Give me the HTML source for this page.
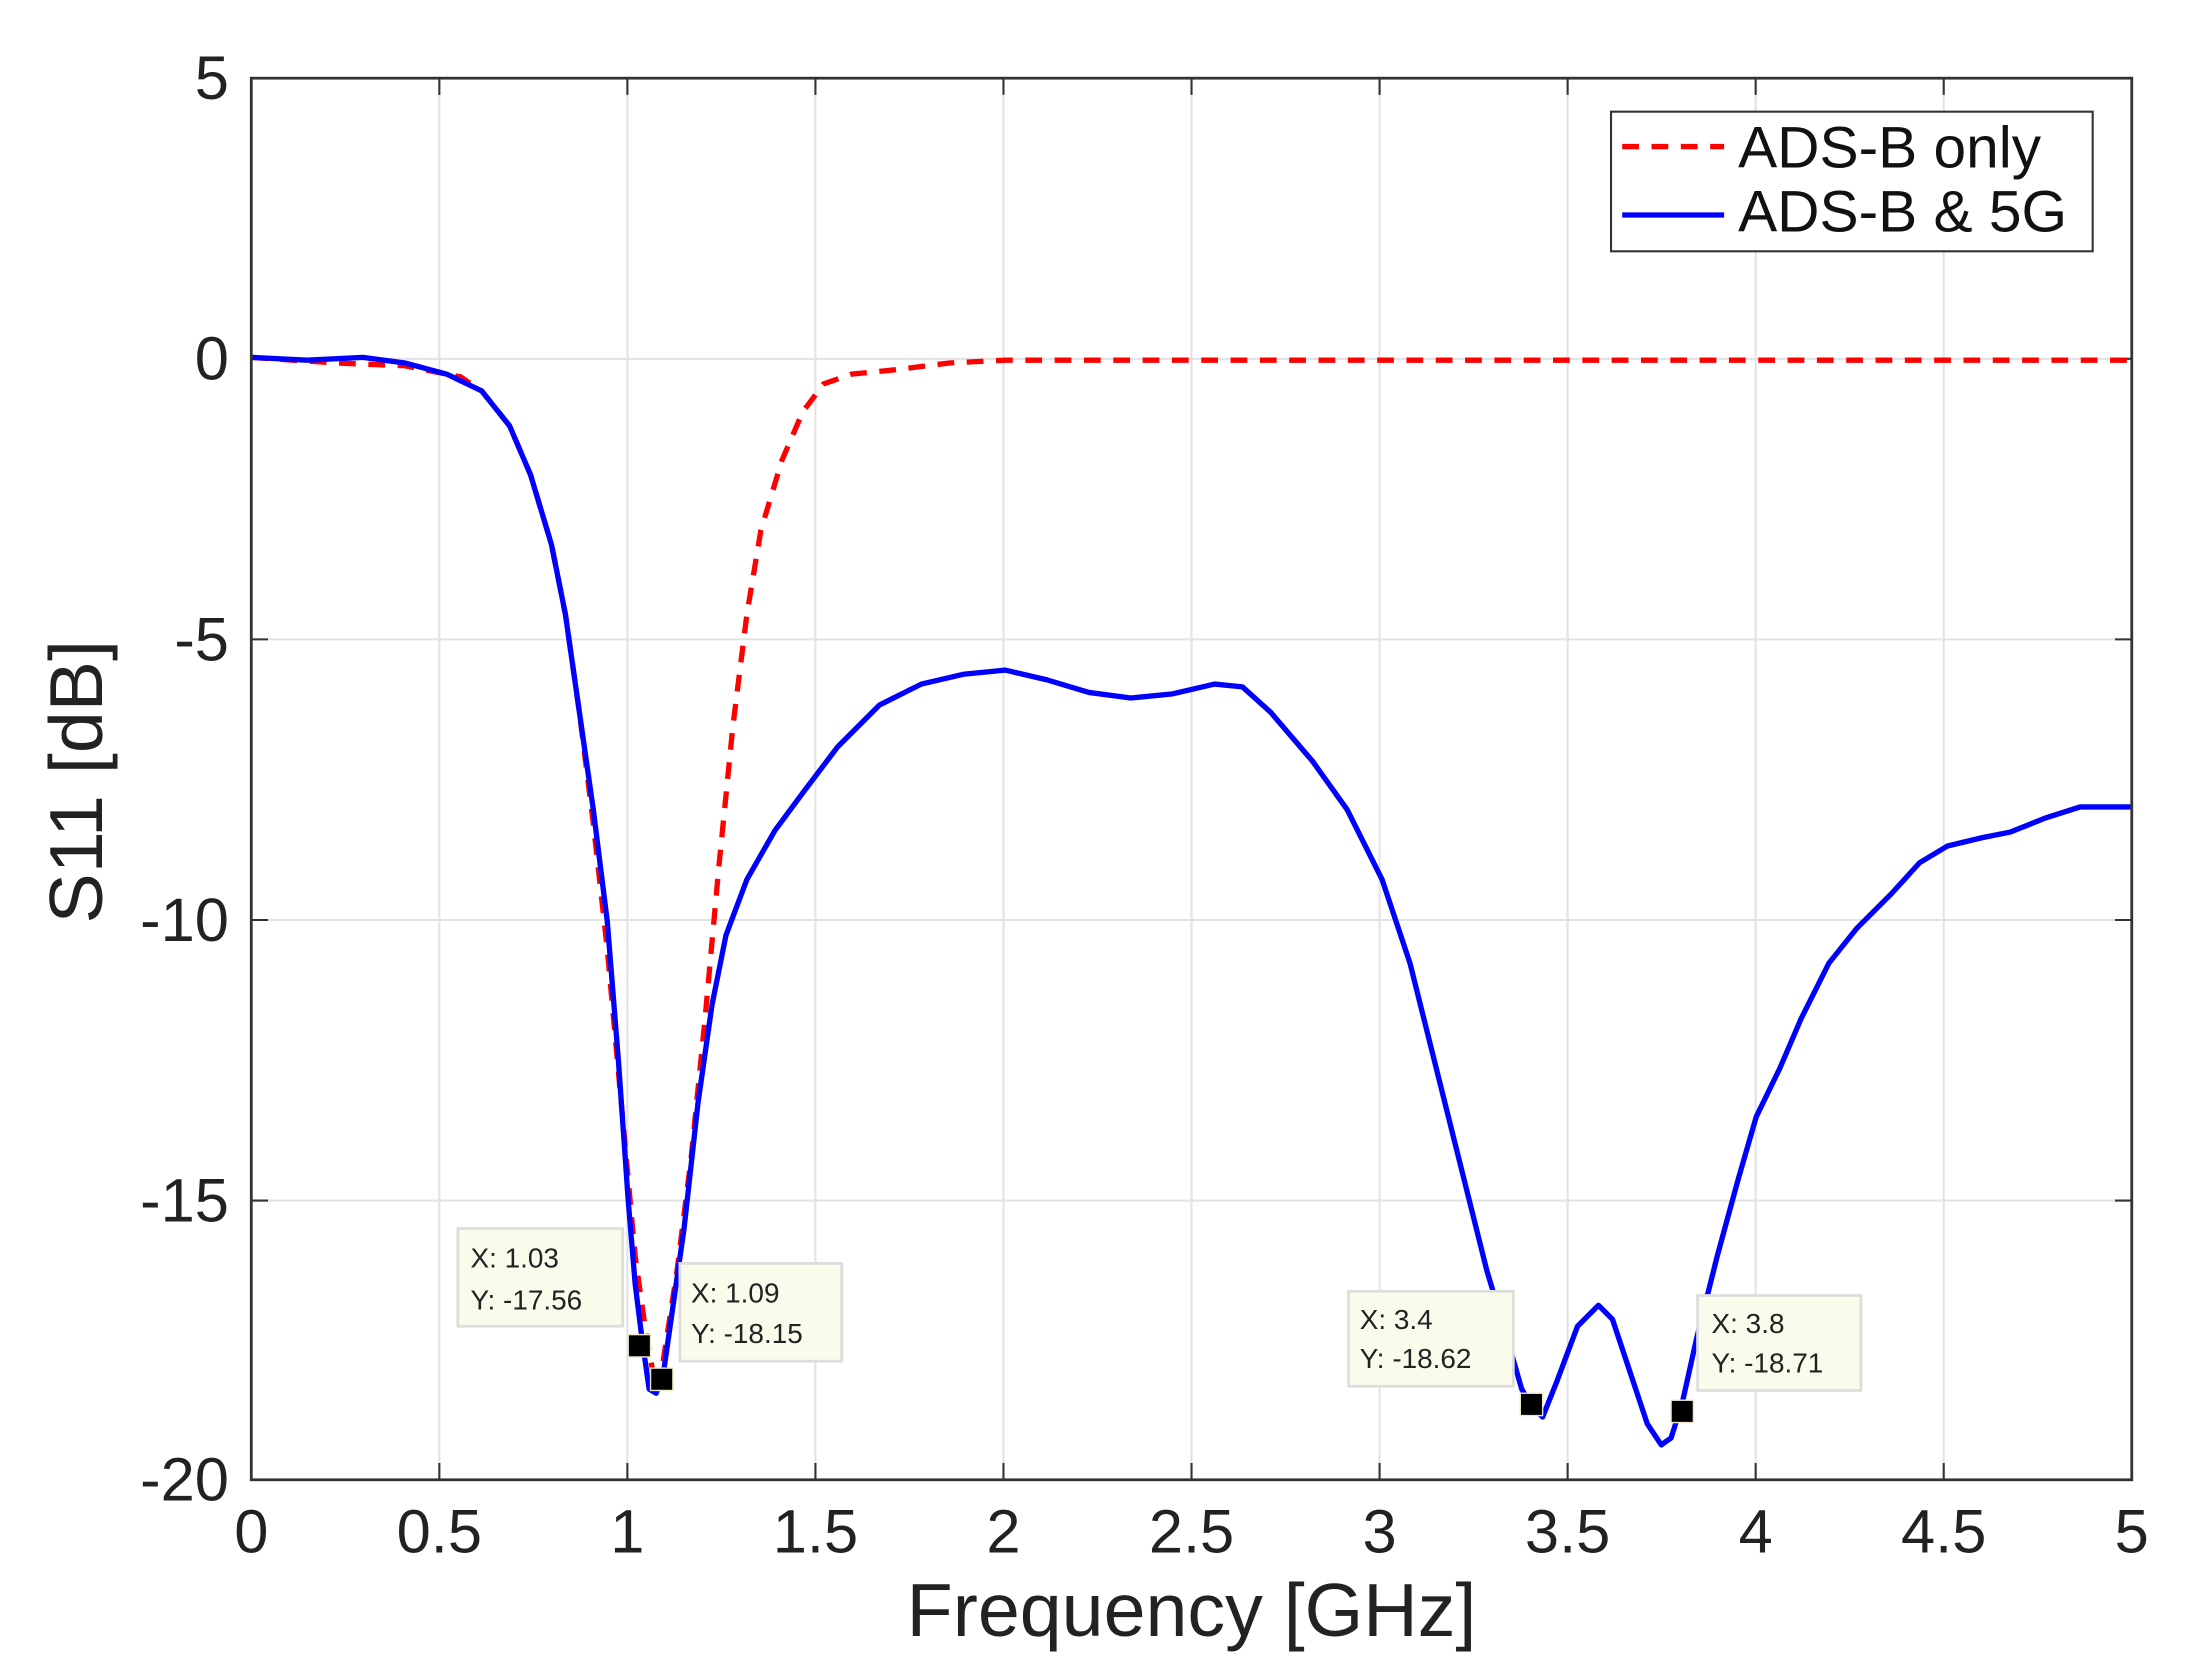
<!DOCTYPE html>
<html><head><meta charset="utf-8"><style>
html,body{margin:0;padding:0;background:#fff;}
svg{display:block;}
text{font-family:"Liberation Sans",sans-serif;}
</style></head><body>
<svg width="2189" height="1680" viewBox="0 0 1568 1203.4" preserveAspectRatio="none" xmlns="http://www.w3.org/2000/svg">
<rect width="1568" height="1203.4" fill="#fff"/>
<g stroke="#e3e3e3" stroke-width="1.5">
<line x1="314.7" y1="56" x2="314.7" y2="1060"/><line x1="449.4" y1="56" x2="449.4" y2="1060"/>
<line x1="584.1" y1="56" x2="584.1" y2="1060"/><line x1="718.8" y1="56" x2="718.8" y2="1060"/>
<line x1="853.5" y1="56" x2="853.5" y2="1060"/><line x1="988.2" y1="56" x2="988.2" y2="1060"/>
<line x1="1122.9" y1="56" x2="1122.9" y2="1060"/><line x1="1257.6" y1="56" x2="1257.6" y2="1060"/>
<line x1="1392.3" y1="56" x2="1392.3" y2="1060"/>
<line x1="180" y1="257" x2="1527" y2="257"/><line x1="180" y1="458" x2="1527" y2="458"/>
<line x1="180" y1="659" x2="1527" y2="659"/><line x1="180" y1="860" x2="1527" y2="860"/>
</g>
<g stroke="#333" stroke-width="1.5">
<path d="M314.7 1060v-12M449.4 1060v-12M584.1 1060v-12M718.8 1060v-12M853.5 1060v-12M988.2 1060v-12M1122.9 1060v-12M1257.6 1060v-12M1392.3 1060v-12"/>
<path d="M314.7 56v12M449.4 56v12M584.1 56v12M718.8 56v12M853.5 56v12M988.2 56v12M1122.9 56v12M1257.6 56v12M1392.3 56v12"/>
<path d="M180 257h12M180 458h12M180 659h12M180 860h12M1527 257h-12M1527 458h-12M1527 659h-12M1527 860h-12"/>
</g>
<path d="M180,256 L240,260 L290,262 L330,270 L345,280 L365,305 L380,340 L395,390 L405,440 L415,510 L425,590 L435,680 L445,790 L455,900 L462,950 L468,985 L475,975 L485,910 L495,830 L505,730 L515,620 L525,520 L535,440 L545,380 L560,330 L575,295 L590,275 L610,268 L640,265 L680,260 L720,258 L1527,258" fill="none" stroke="#ff0000" stroke-width="3.8" stroke-dasharray="12,9"/>
<path d="M180,256 L220,258 L260,256 L290,260 L320,268 L345,280 L365,305 L380,340 L395,390 L405,440 L415,510 L425,580 L435,660 L443,760 L450,860 L455,920 L460,960 L465,995 L470,998 L475,985 L480,950 L490,880 L500,790 L510,720 L520,670 L535,630 L555,595 L575,568 L600,535 L630,505 L660,490 L690,483 L720,480 L750,487 L780,496 L810,500 L840,497 L870,490 L890,492 L910,510 L940,545 L965,580 L990,630 L1010,690 L1030,770 L1050,850 L1065,910 L1080,960 L1090,995 L1098,1008 L1105,1015 L1115,990 L1130,950 L1145,935 L1155,945 L1165,975 L1180,1020 L1190,1035 L1197,1030 L1205,1005 L1215,960 L1230,900 L1245,845 L1258,800 L1275,765 L1290,730 L1310,690 L1330,665 L1355,640 L1375,618 L1395,606 L1420,600 L1440,596 L1465,586 L1490,578 L1527,578" fill="none" stroke="#0000ff" stroke-width="3.8" stroke-linejoin="round"/>
<rect x="180" y="56" width="1347" height="1004" fill="none" stroke="#333" stroke-width="2"/>
<g font-size="44" fill="#222" text-anchor="end">
<text x="164" y="71">5</text><text x="164" y="272">0</text><text x="164" y="473">-5</text>
<text x="164" y="674">-10</text><text x="164" y="875">-15</text><text x="164" y="1075">-20</text>
</g>
<g font-size="44" fill="#222" text-anchor="middle">
<text x="180" y="1112">0</text><text x="314.7" y="1112">0.5</text><text x="449.4" y="1112">1</text>
<text x="584.1" y="1112">1.5</text><text x="718.8" y="1112">2</text><text x="853.5" y="1112">2.5</text>
<text x="988.2" y="1112">3</text><text x="1122.9" y="1112">3.5</text><text x="1257.6" y="1112">4</text>
<text x="1392.3" y="1112">4.5</text><text x="1527" y="1112">5</text>
</g>
<text x="853.5" y="1172" font-size="54" fill="#222" text-anchor="middle">Frequency [GHz]</text>
<text transform="translate(73,560) rotate(-90)" font-size="54" fill="#222" text-anchor="middle">S11 [dB]</text>
<rect x="1154" y="80" width="345" height="100" fill="#fff" stroke="#333" stroke-width="1.5"/>
<line x1="1162" y1="105" x2="1235" y2="105" stroke="#ff0000" stroke-width="3.8" stroke-dasharray="12,9"/>
<line x1="1162" y1="154" x2="1235" y2="154" stroke="#0000ff" stroke-width="3.8"/>
<text x="1245" y="120" font-size="42" fill="#111">ADS-B only</text>
<text x="1245" y="166" font-size="42" fill="#111">ADS-B &amp; 5G</text>
<g font-size="20" fill="#222">
<rect x="328" y="880" width="118" height="70" fill="#fbfbeb" stroke="#ddd" stroke-width="2"/>
<text x="337" y="908">X: 1.03</text><text x="337" y="938">Y: -17.56</text>
<rect x="487" y="905" width="116" height="70" fill="#fbfbeb" stroke="#ddd" stroke-width="2"/>
<text x="495" y="933">X: 1.09</text><text x="495" y="962">Y: -18.15</text>
<rect x="966" y="925" width="118" height="68" fill="#fbfbeb" stroke="#ddd" stroke-width="2"/>
<text x="974" y="952">X: 3.4</text><text x="974" y="980">Y: -18.62</text>
<rect x="1216" y="928" width="117" height="68" fill="#fbfbeb" stroke="#ddd" stroke-width="2"/>
<text x="1226" y="955">X: 3.8</text><text x="1226" y="983">Y: -18.71</text>
</g>
<g fill="#000" stroke="#eee6c8" stroke-width="1">
<rect x="450" y="956" width="16" height="16"/><rect x="466" y="980" width="16" height="16"/>
<rect x="1089" y="998" width="16" height="16"/><rect x="1197" y="1003" width="16" height="16"/>
</g>
</svg>
</body></html>
